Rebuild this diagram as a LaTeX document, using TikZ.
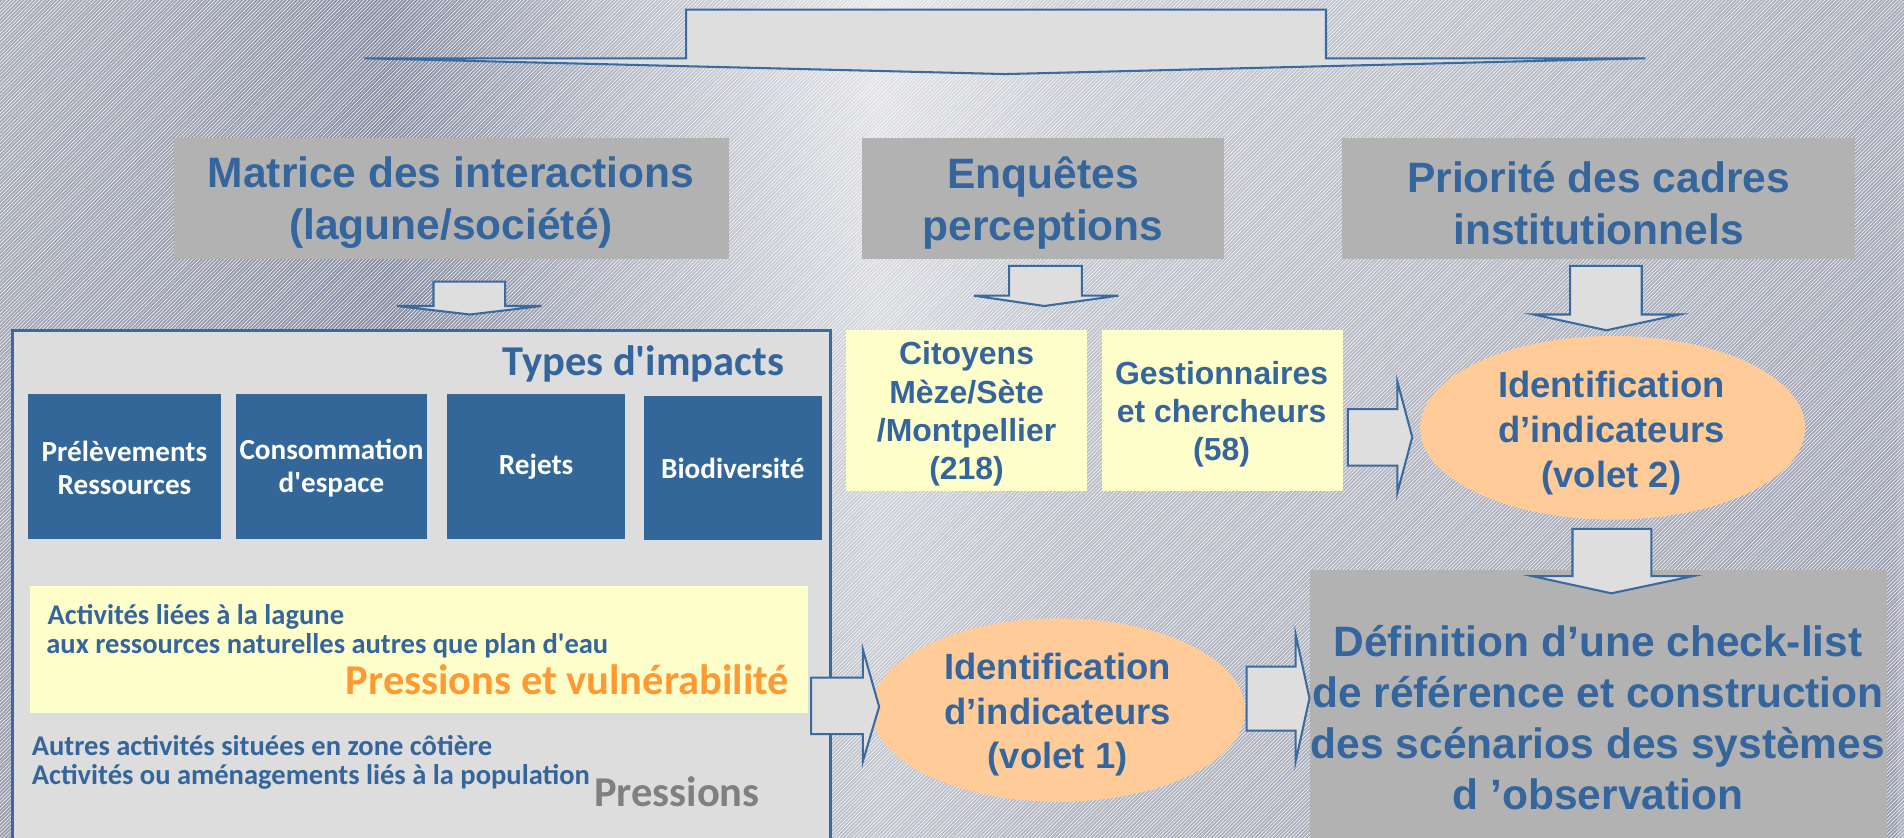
\documentclass[tikz,border=0pt]{standalone}
\usepackage{fontspec}
\setmainfont{Liberation Sans}
\newfontfamily\comicfont{Carlito}
\usetikzlibrary{shapes.geometric,patterns,fadings}

\definecolor{tblue}{HTML}{34659C}
\definecolor{bbox}{HTML}{336699}
\definecolor{hgray}{HTML}{B2B2B2}
\definecolor{panelgray}{HTML}{DDDDDD}
\definecolor{pblue}{HTML}{3A6AA0}
\definecolor{lyellow}{HTML}{FFFFCC}
\definecolor{peach}{HTML}{FFCC99}
\definecolor{orangetxt}{HTML}{FF9933}
\definecolor{graytxt}{HTML}{808080}
\definecolor{arrowfill}{HTML}{DEDEDE}
\definecolor{bg0}{HTML}{A7ABB8}
\definecolor{bg1}{HTML}{9DA1B1}
\definecolor{bg2}{HTML}{868CA1}
\definecolor{bg3}{HTML}{B9BCC8}
\definecolor{bg4}{HTML}{E4E5E8}
\definecolor{bg5}{HTML}{CBCDD4}
\definecolor{bg6}{HTML}{BFC1CA}
\definecolor{bg7}{HTML}{B0B3C0}
\definecolor{bg8}{HTML}{A5A9B8}
\definecolor{bgdark}{HTML}{7A8198}

\pgfdeclarehorizontalshading{bgshade}{100bp}{color(0bp)=(bg0); color(25bp)=(bg0); color(29.8bp)=(bg1); color(35.2bp)=(bg2); color(41.6bp)=(bg3); color(48bp)=(bg4); color(53.1bp)=(bg5); color(61.7bp)=(bg6); color(69.6bp)=(bg7); color(75bp)=(bg8); color(100bp)=(bg8)}

\begin{document}
\begin{tikzpicture}[x=1pt,y=-1pt,
  hdrbox/.style={fill=hgray, inner sep=0pt, outer sep=0pt, minimum height=100.2pt},
  hdrtext/.style={text=tblue, font=\bfseries\fontsize{35}{42.6}\selectfont, align=center, inner sep=0pt},
  bluebox/.style={fill=bbox, inner sep=0pt, outer sep=0pt, minimum height=119.2pt},
  bluetext/.style={text=white, font=\comicfont\bfseries\fontsize{24}{27}\selectfont, align=center, inner sep=0pt},
  ybox/.style={fill=lyellow, inner sep=0pt, outer sep=0pt},
  ytext/.style={text=tblue, font=\bfseries\fontsize{26.3}{31.5}\selectfont, align=center, inner sep=0pt},
  ell/.style={ellipse, fill=peach, inner sep=0pt, outer sep=0pt},
  elltext/.style={text=tblue, font=\bfseries\fontsize{30}{37}\selectfont, align=center, inner sep=0pt},
  blockarrow/.style={fill=arrowfill, draw=pblue, line width=1.7pt, line join=miter},
  comictext/.style={text=tblue, font=\comicfont\bfseries\fontsize{23.5}{27}\selectfont, inner sep=0pt},
  bigcomic/.style={font=\comicfont\bfseries\fontsize{35}{40}\selectfont, inner sep=0pt}
]
\useasboundingbox (0,0) rectangle (1568,690);
\clip (0,0) rectangle (1568,690);

% background
\shade[shading=bgshade] (0,0) rectangle (1568,690);
\fill[bgdark, fill opacity=0.35, path fading=north] (0,0) rectangle (1568,690);
\fill[pattern=north east lines, pattern color=white, fill opacity=0.07] (0,0) rectangle (1568,690);

% top arrow
\draw[blockarrow] (565,8) -- (1092,8) -- (1092,48) -- (1355,48) -- (828,61) -- (300,48) -- (565,48) -- cycle;

% header boxes
\node[hdrbox, minimum width=457pt] (matrice) at (371.5,163.5) {};
\node[hdrtext] (matricetxt) at (371.5,167) {Matrice des interactions\\(lagune/société)};
\node[hdrbox, minimum width=298pt] (enquetes) at (859,163.5) {};
\node[hdrtext] (enquetestxt) at (859,167) {Enquêtes\\perceptions};
\node[hdrbox, minimum width=423pt] (priorite) at (1316.5,163.5) {};
\node[hdrtext] (prioritetxt) at (1316.5,167) {Priorité des cadres\\institutionnels};

% small down arrows
\draw[blockarrow] (357,232) -- (416,232) -- (416,252) -- (446,252) -- (387,259) -- (327,252) -- (357,252) -- cycle;
\draw[blockarrow] (831,219) -- (891,219) -- (891,243.5) -- (921,243.5) -- (860,252) -- (802,243.5) -- (831,243.5) -- cycle;

% left panel
\node[draw=pblue, line width=2.5pt, fill=panelgray, minimum width=674pt, minimum height=430pt, inner sep=0pt] (panel) at (347,487) {};
\node[bigcomic, text=tblue, anchor=base east] (types) at (646,309) {Types d'impacts};

\node[bluebox, minimum width=159pt] (b1) at (102.5,384.1) {};
\node[bluetext] (b1t) at (102.5,385.5) {Prélèvements\\Ressources};
\node[bluebox, minimum width=158pt] (b2) at (273,384.1) {};
\node[bluetext] (b2t) at (273,385.5) {Consommation\\d'espace};
\node[bluebox, minimum width=147pt] (b3) at (441.5,384.1) {};
\node[bluetext] (b3t) at (b3) {Rejets};
\node[bluebox, minimum width=147pt] (b4) at (603.5,385.5) {};
\node[bluetext] (b4t) at (b4) {Biodiversité};

\node[ybox, minimum width=640.5pt, minimum height=105.1pt] (ypress) at (344.75,535) {};
\node[comictext, anchor=base west] (l1) at (39,514) {Activités liées à la lagune};
\node[comictext, anchor=base west] (l2) at (38,538.5) {aux ressources naturelles autres que plan d'eau};
\node[bigcomic, text=orangetxt, anchor=base east] (pv) at (650,572) {Pressions et vulnérabilité};
\node[comictext, anchor=base west] (l3) at (26,622) {Autres activités situées en zone côtière};
\node[comictext, anchor=base west] (l4) at (26,646) {Activités ou aménagements liés à la population};
\node[bigcomic, text=graytxt, anchor=base west] (pr) at (489,664.5) {Pressions};

% survey boxes
\node[ybox, minimum width=198pt, minimum height=132.6pt] (cit) at (796,337.9) {};
\node[ytext] (citt) at (796,341) {Citoyens\\Mèze/Sète\\/Montpellier\\(218)};
\node[ybox, minimum width=198.7pt, minimum height=132.6pt] (gest) at (1007,337.9) {};
\node[ytext] (gestt) at (1006,341) {Gestionnaires\\et chercheurs\\(58)};

% Priorité arrow
\draw[blockarrow] (1293,219) -- (1352,219) -- (1352,259) -- (1383,259) -- (1323,272) -- (1263,259) -- (1293,259) -- cycle;

% ellipses
\node[ell, minimum width=317pt, minimum height=151.2pt] (ell2) at (1328,352.3) {};
\node[elltext] (ell2t) at (1327,357) {Identification\\d’indicateurs\\(volet 2)};
\node[ell, minimum width=307.4pt, minimum height=151pt] (ell1) at (871.7,584.8) {};
\node[elltext] (ell1t) at (871,588.5) {Identification\\d’indicateurs\\(volet 1)};

% definition box
\node[hdrbox, minimum width=475pt, minimum height=240pt] (defn) at (1316.5,589.4) {};
\node[hdrtext, font=\bfseries\fontsize{35}{42}\selectfont] (defnt) at (1316,591) {Définition d’une check-list\\de référence et construction\\des scénarios des systèmes\\d ’observation};

% horizontal & vertical block arrows
\draw[blockarrow] (1110,337) -- (1150.7,337) -- (1150.7,314) -- (1163,360) -- (1150.7,406) -- (1150.7,383.5) -- (1110,383.5) -- cycle;
\draw[blockarrow] (668,558) -- (710.6,558) -- (710.6,535) -- (724,582) -- (710.6,627) -- (710.6,604.5) -- (668,604.5) -- cycle;
\draw[blockarrow] (1026.6,549) -- (1067,549) -- (1067,522.6) -- (1078.4,575) -- (1067,627) -- (1067,601.7) -- (1026.6,601.7) -- cycle;
\draw[blockarrow] (1295,435.5) -- (1360,435.5) -- (1360,474.5) -- (1394,474.5) -- (1327,488.6) -- (1262,474.5) -- (1295,474.5) -- cycle;
\end{tikzpicture}
\end{document}
